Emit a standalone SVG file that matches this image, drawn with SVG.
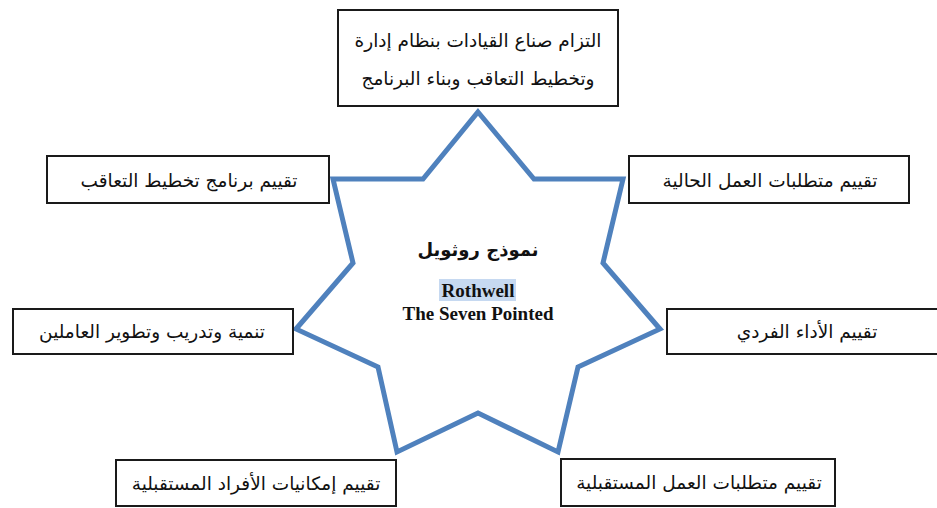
<svg xmlns="http://www.w3.org/2000/svg" width="937" height="508" viewBox="0 0 937 508">
<style>
.box{fill:#fff;stroke:#1a1a1a;stroke-width:2}
.ar{font-family:"DejaVu Sans","Noto Sans",sans-serif;font-size:18.5px;fill:#111;text-anchor:middle;direction:rtl}
.en{font-family:"Liberation Serif","Times New Roman",serif;font-size:19px;font-weight:bold;fill:#111;text-anchor:middle}
.star{fill:#fff;stroke:#4F81BD;stroke-width:5;stroke-linejoin:miter}
</style>
<rect width="937" height="508" fill="#fff"/>
<g id="center">
<path class="star" d="M478,112 L534,179 L623,179 L603,263 L660,329 L578,367 L558,452 L478,413 L397,452 L378,367 L296,329 L353,263 L333,179 L423,179 Z"/>
<text class="ar" x="478" y="256" style="font-size:18px;font-weight:bold">نموذج روثويل</text>
<rect x="439" y="279" width="77" height="22" fill="#C6D9F1"/>
<text class="en" x="478" y="297">Rothwell</text>
<text class="en" x="478" y="320">The Seven Pointed</text>
</g>
<g id="n-top">
<rect class="box" x="338" y="10" width="280" height="96"/>
<text class="ar" x="478" y="47">التزام صناع القيادات بنظام إدارة</text>
<text class="ar" x="478" y="85">وتخطيط التعاقب وبناء البرنامج</text>
</g>
<g id="n-upper-left">
<rect class="box" x="47" y="156" width="282" height="47"/>
<text class="ar" x="189" y="187">تقييم برنامج تخطيط التعاقب</text>
</g>
<g id="n-upper-right">
<rect class="box" x="629" y="156" width="280" height="47"/>
<text class="ar" x="770" y="187">تقييم متطلبات العمل الحالية</text>
</g>
<g id="n-mid-left">
<rect class="box" x="13" y="309" width="280" height="45"/>
<text class="ar" x="152" y="338">تنمية وتدريب وتطوير العاملين</text>
</g>
<g id="n-mid-right">
<rect class="box" x="667" y="309" width="280" height="45"/>
<text class="ar" x="807" y="338">تقييم الأداء الفردي</text>
</g>
<g id="n-bottom-left">
<rect class="box" x="116" y="460" width="280" height="46"/>
<text class="ar" x="256" y="490">تقييم إمكانيات الأفراد المستقبلية</text>
</g>
<g id="n-bottom-right">
<rect class="box" x="561" y="459" width="274" height="47"/>
<text class="ar" x="699" y="489">تقييم متطلبات العمل المستقبلية</text>
</g>
<g id="connectors"/>
</svg>
